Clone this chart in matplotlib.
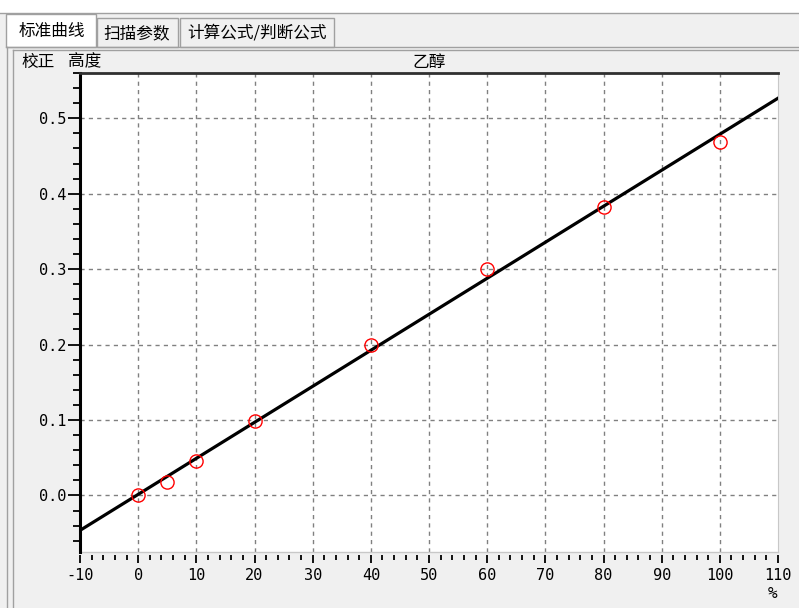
import matplotlib
matplotlib.use("Agg")
import matplotlib.pyplot as plt
from matplotlib.patches import Rectangle
from matplotlib.lines import Line2D
import numpy as np

plt.rcParams['font.family'] = ['Noto Sans CJK SC', 'DejaVu Sans']

# data
conc = [0, 5, 10, 20, 40, 60, 80, 100]
peak_height = [0.000, 0.018, 0.046, 0.099, 0.200, 0.300, 0.383, 0.469]
x_ticks = [-10, 0, 10, 20, 30, 40, 50, 60, 70, 80, 90, 100, 110]
y_ticks = [0.0, 0.1, 0.2, 0.3, 0.4, 0.5]
tab_names = ["标准曲线", "扫描参数", "计算公式/判断公式"]

W, H = 799, 608
BG = '#f0f0f0'
EDGE = '#a0a0a0'


def fx(px):
    return px / W


def fy(py):
    return 1 - py / H


fig = plt.figure(figsize=(W / 100, H / 100), dpi=100)
fig.patch.set_facecolor(BG)

# window chrome: white strip, tab bar, frame lines
fig.add_artist(Rectangle((0, fy(13)), 1, 13 / H, transform=fig.transFigure,
                         facecolor='white', edgecolor='none'))
fig.add_artist(Line2D([0, 1], [fy(13), fy(13)], color=EDGE, lw=1))
fig.add_artist(Line2D([fx(6), 1], [fy(47), fy(47)], color=EDGE, lw=1))
fig.add_artist(Line2D([fx(13), 1], [fy(50), fy(50)], color=EDGE, lw=1))
fig.add_artist(Line2D([fx(7), fx(7)], [0, fy(47)], color=EDGE, lw=1))
fig.add_artist(Line2D([fx(13), fx(13)], [0, fy(50)], color=EDGE, lw=1))

# tab boxes: left, right, top, text start
tabs = [(6, 96, 14, 19), (97, 178, 18, 103), (180, 334, 18, 187)]
for (x0, x1, y0, tx), name in zip(tabs, tab_names):
    fc = 'white' if y0 == 14 else BG
    fig.add_artist(Rectangle((fx(x0), fy(47)), fx(x1 - x0), (47 - y0) / H,
                             transform=fig.transFigure, facecolor=fc,
                             edgecolor=EDGE, lw=1))
    fig.text(fx(tx), fy(y0 + (47 - y0) / 2 + 1), name, fontsize=12,
             ha='left', va='center', color='black')

fig.text(fx(22), fy(62), "校正", fontsize=12, ha='left', va='center')
fig.text(fx(68), fy(62), "高度", fontsize=12, ha='left', va='center')
fig.text(fx(413), fy(62), "乙醇", fontsize=12, ha='left', va='center')
fig.text(fx(773), fy(593), "%", fontsize=11.5, ha='center', va='center',
         family='DejaVu Sans Mono')

ax = fig.add_axes([fx(80), (H - 552) / H, 698 / W, (552 - 73) / H])
ax.set_facecolor('white')

slope, intercept = np.polyfit(conc, peak_height, 1)
xs = np.array([-10, 110])
ax.plot(xs, slope * xs + intercept, color='black', lw=2.3, zorder=3)
ax.plot(conc, peak_height, 'o', mfc='none', mec='red', ms=9.5, mew=1, zorder=4)

ax.set_xlim(-10, 110)
ax.set_ylim(-0.075, 0.557)
ax.set_xticks(x_ticks)
ax.set_xticks(np.arange(-10, 111, 2), minor=True)
ax.set_yticks(y_ticks)
ax.set_yticks(np.arange(-0.06, 0.56, 0.02), minor=True)

for v in x_ticks[1:-1]:
    ax.axvline(v, color='#808080', lw=1, ls=(0, (3, 3)), zorder=1)
for v in y_ticks:
    ax.axhline(v, color='#808080', lw=1, ls=(0, (3, 3)), zorder=1)

ax.spines['left'].set_linewidth(2.2)
ax.spines['left'].set_color('black')
ax.spines['top'].set_linewidth(2)
ax.spines['top'].set_color('#303030')
ax.spines['right'].set_color('#c8c8c8')
ax.spines['bottom'].set_position(('outward', 2.5))
ax.spines['bottom'].set_visible(False)
ax.plot([0, 1], [0, 0], transform=ax.transAxes, color='#c8c8c8', lw=1,
        clip_on=False)

ax.tick_params(axis='x', which='major', direction='out', length=6, width=1.3,
               pad=3, colors='black')
ax.tick_params(axis='x', which='minor', direction='out', length=3.5, width=1.3)
ax.tick_params(axis='y', which='major', direction='out', length=9, width=1.3,
               pad=1)
ax.tick_params(axis='y', which='minor', direction='out', length=5, width=1.3)

ax.set_xticklabels([str(v) for v in x_ticks], family='DejaVu Sans Mono', fontsize=11)
ax.set_yticklabels([f"{v:.1f}" for v in y_ticks], family='DejaVu Sans Mono', fontsize=11)

fig.savefig('out.png', dpi=100, facecolor=fig.get_facecolor())
